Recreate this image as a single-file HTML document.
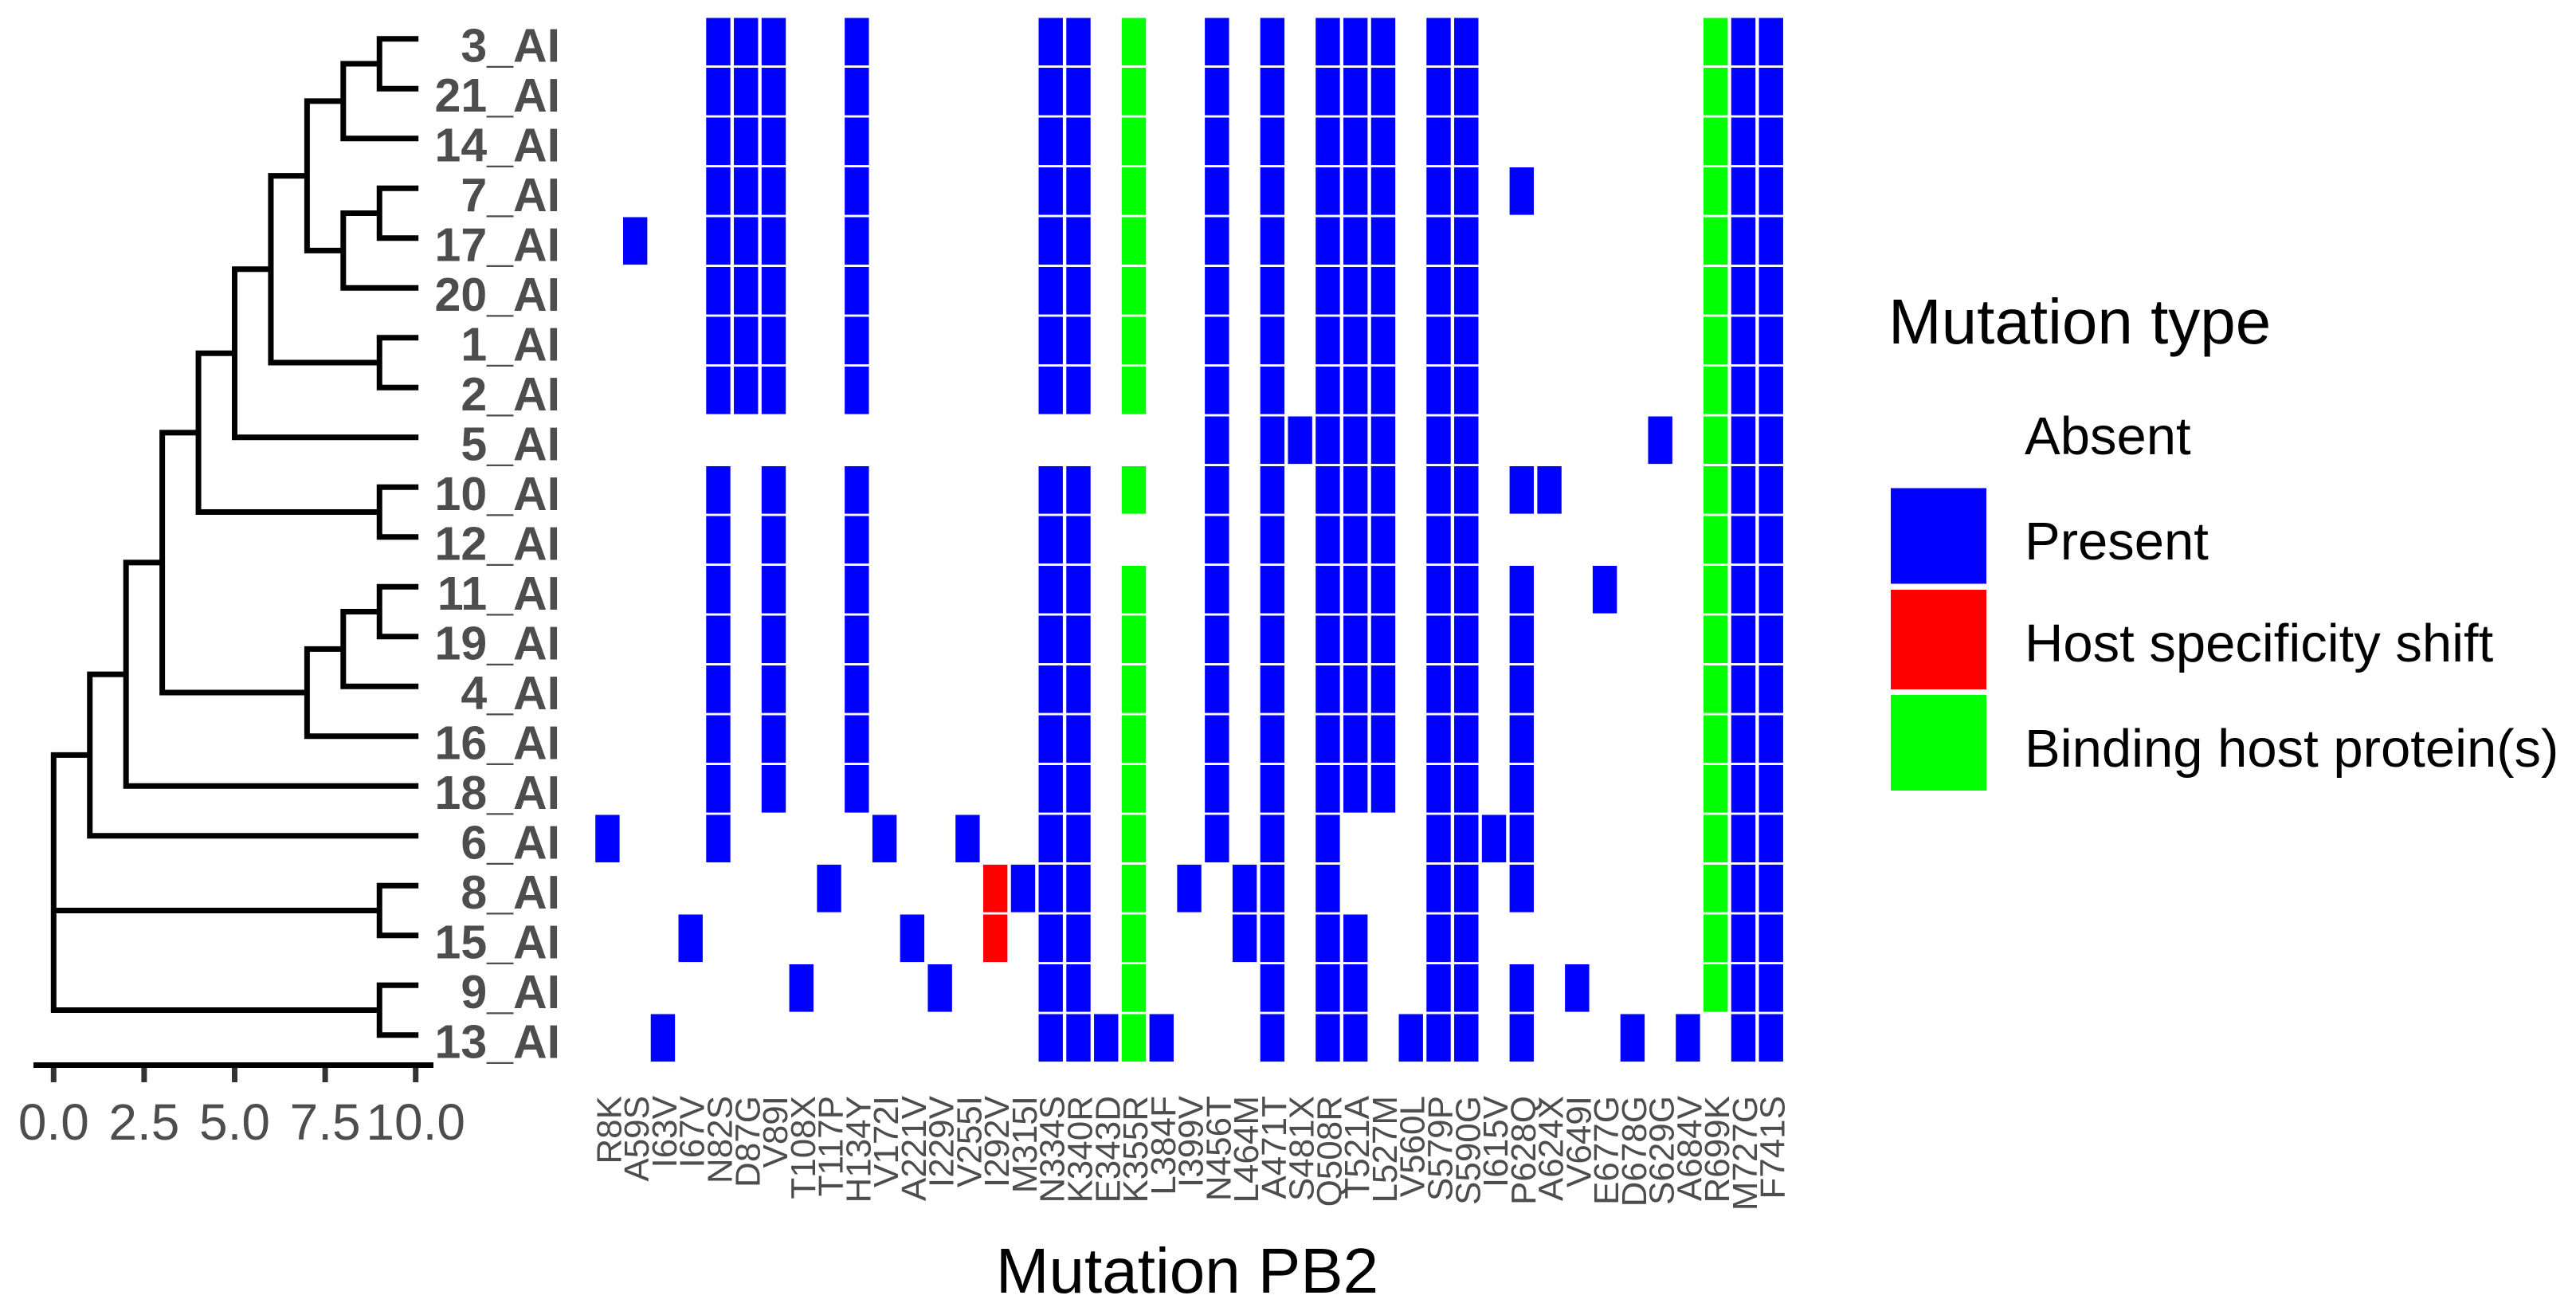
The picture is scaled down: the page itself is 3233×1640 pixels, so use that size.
<!DOCTYPE html>
<html lang="en">
<head>
<meta charset="utf-8">
<title>Mutation PB2 heatmap with phylogenetic tree</title>
<style>
html,body{margin:0;padding:0;background:#fff;}
svg{display:block;}
text{font-family:"Liberation Sans",sans-serif;}
</style>
</head>
<body>
<svg id="chart" xmlns="http://www.w3.org/2000/svg" width="3233" height="1640" viewBox="0 0 3233 1640">
  <rect x="0" y="0" width="3233" height="1640" fill="#ffffff"/>
  <g id="tree"></g>
  <g id="tree-axis"></g>
  <g id="tip-labels"></g>
  <g id="tiles"></g>
  <g id="mutation-labels"></g>
  <text x="1490" y="1622" text-anchor="middle" font-size="80" fill="#000">Mutation PB2</text>
  <g>
    <text x="2370" y="431" font-size="80" fill="#000">Mutation type</text>
    <text x="2541" y="570" font-size="67" fill="#000">Absent</text>
    <rect x="2373" y="612.5" width="120" height="120" fill="#0000ff"/>
    <text x="2541" y="702" font-size="67" fill="#000">Present</text>
    <rect x="2373" y="740" width="120" height="125" fill="#ff0000"/>
    <text x="2541" y="830" font-size="67" fill="#000">Host specificity shift</text>
    <rect x="2373" y="872" width="120" height="120" fill="#00ff00"/>
    <text x="2541" y="962" font-size="67" fill="#000">Binding host protein(s)</text>
  </g>
</svg>
<script>
const tipLabels = ["3_AI","21_AI","14_AI","7_AI","17_AI","20_AI","1_AI","2_AI","5_AI","10_AI","12_AI","11_AI","19_AI","4_AI","16_AI","18_AI","6_AI","8_AI","15_AI","9_AI","13_AI"];
const mutationLabels = ["R8K","A59S","I63V","I67V","N82S","D87G","V89I","T108X","T117P","H134Y","V172I","A221V","I229V","V255I","I292V","M315I","N334S","K340R","E343D","K355R","L384F","I399V","N456T","L464M","A471T","S481X","Q508R","T521A","L527M","V560L","S579P","S590G","I615V","P628Q","A624X","V649I","E677G","D678G","S629G","A684V","R699K","M727G","F741S"];
// One string per taxon, one character per mutation: . absent, P present, R host specificity shift, G binding host protein(s)
const mutationMatrix = [
  "....PPP..P......PP.G..P.P.PPP.PP........GPP",
  "....PPP..P......PP.G..P.P.PPP.PP........GPP",
  "....PPP..P......PP.G..P.P.PPP.PP........GPP",
  "....PPP..P......PP.G..P.P.PPP.PP.P......GPP",
  ".P..PPP..P......PP.G..P.P.PPP.PP........GPP",
  "....PPP..P......PP.G..P.P.PPP.PP........GPP",
  "....PPP..P......PP.G..P.P.PPP.PP........GPP",
  "....PPP..P......PP.G..P.P.PPP.PP........GPP",
  "......................P.PPPPP.PP......P.GPP",
  "....P.P..P......PP.G..P.P.PPP.PP.PP.....GPP",
  "....P.P..P......PP....P.P.PPP.PP........GPP",
  "....P.P..P......PP.G..P.P.PPP.PP.P..P...GPP",
  "....P.P..P......PP.G..P.P.PPP.PP.P......GPP",
  "....P.P..P......PP.G..P.P.PPP.PP.P......GPP",
  "....P.P..P......PP.G..P.P.PPP.PP.P......GPP",
  "....P.P..P......PP.G..P.P.PPP.PP.P......GPP",
  "P...P.....P..P..PP.G..P.P.P...PPPP......GPP",
  "........P.....RPPP.G.P.PP.P...PP.P......GPP",
  "...P.......P..R.PP.G...PP.PP..PP........GPP",
  ".......P....P...PP.G....P.PP..PP.P.P....GPP",
  "..P.............PPPGP...P.PP.PPP.P...P.P.PP"
];
const treeTickValues = [0, 2.5, 5, 7.5, 10];
const treeTickLabels = ["0.0", "2.5", "5.0", "7.5", "10.0"];
// Tree: [node height, child, child, ...]; a string child is a tip at height 10
const treeRoot = [0,
  [1,
    [2,
      [3,
        [4,
          [5,
            [6,
              [7,
                [8, [9, "3_AI", "21_AI"], "14_AI"],
                [8, [9, "7_AI", "17_AI"], "20_AI"]
              ],
              [9, "1_AI", "2_AI"]
            ],
            "5_AI"
          ],
          [9, "10_AI", "12_AI"]
        ],
        [7,
          [8, [9, "11_AI", "19_AI"], "4_AI"],
          "16_AI"
        ]
      ],
      "18_AI"
    ],
    "6_AI"
  ],
  [9, "8_AI", "15_AI"],
  [9, "9_AI", "13_AI"]
];
const tipHeight = 10;

const SVGNS = "http://www.w3.org/2000/svg";
const tileColors = {P: "#0000ff", R: "#ff0000", G: "#00ff00"};
const columnBand = 34.77;
const rowBand = 62.5;
function xTree(v) { return 67.3 + 45.44 * v; }
function yTree(r) { return 48.7 + rowBand * r; }
function xCol(i) { return 762.4 + columnBand * i; }
function yRow(r) { return 52.3 + rowBand * r; }
function make(tag, attrs, text) {
  const el = document.createElementNS(SVGNS, tag);
  for (const k in attrs) el.setAttribute(k, attrs[k]);
  if (text !== undefined) el.textContent = text;
  return el;
}

/* tree */
const treeGroup = document.getElementById("tree");
let treePath = "";
function layout(node) {
  if (typeof node === "string") {
    return {h: tipHeight, r: tipLabels.indexOf(node)};
  }
  const kids = node.slice(1).map(layout);
  const rs = kids.map(function (k) { return k.r; });
  const rMin = Math.min.apply(null, rs);
  const rMax = Math.max.apply(null, rs);
  const h = node[0];
  treePath += "M" + xTree(h) + " " + yTree(rMin) + "V" + yTree(rMax);
  kids.forEach(function (k) {
    treePath += "M" + xTree(h) + " " + yTree(k.r) + "H" + xTree(k.h);
  });
  return {h: h, r: (rMin + rMax) / 2};
}
layout(treeRoot);
const branches = make("path", {d: treePath, fill: "none", stroke: "#000", "stroke-width": 7, "stroke-linecap": "square"});


treeGroup.appendChild(branches);

/* tree axis */
const axisGroup = document.getElementById("tree-axis");
const axisLine = make("rect", {x: 42, y: 1333, width: 502, height: 7, fill: "#000"});


axisGroup.appendChild(axisLine);
treeTickValues.forEach(function (v, i) {
  const tick = make("rect", {x: xTree(v) - 3.5, y: 1340, width: 7, height: 18, fill: "#333333"});
  
  
  axisGroup.appendChild(tick);
  const label = make("text", {x: xTree(v), y: 1430, "text-anchor": "middle", "font-size": 64, fill: "#4d4d4d"}, treeTickLabels[i]);
  
  
  axisGroup.appendChild(label);
});

/* taxon labels */
const tipGroup = document.getElementById("tip-labels");
tipLabels.forEach(function (name, r) {
  const t = make("text", {x: 703, y: yRow(r) + 25, "text-anchor": "end", "font-size": 59, "font-weight": "bold", fill: "#4d4d4d"}, name);
  
  
  tipGroup.appendChild(t);
});

/* heatmap tiles */
const tileGroup = document.getElementById("tiles");
const tileW = 30.4;
const tileH = 59.6;
mutationMatrix.forEach(function (row, r) {
  row.split("").forEach(function (state, c) {
    if (!tileColors[state]) return;
    const tile = make("rect", {x: xCol(c) - tileW / 2, y: yRow(r) - tileH / 2, width: tileW, height: tileH, fill: tileColors[state]});
    
    
    tileGroup.appendChild(tile);
  });
});

/* mutation labels */
const mutGroup = document.getElementById("mutation-labels");
mutationLabels.forEach(function (name, c) {
  const x = xCol(c) + 17;
  const t = make("text", {transform: "translate(" + x + " 1375) rotate(-90)", "text-anchor": "end", "font-size": 44, fill: "#4d4d4d"}, name);
  
  
  mutGroup.appendChild(t);
});
</script>
</body>
</html>
